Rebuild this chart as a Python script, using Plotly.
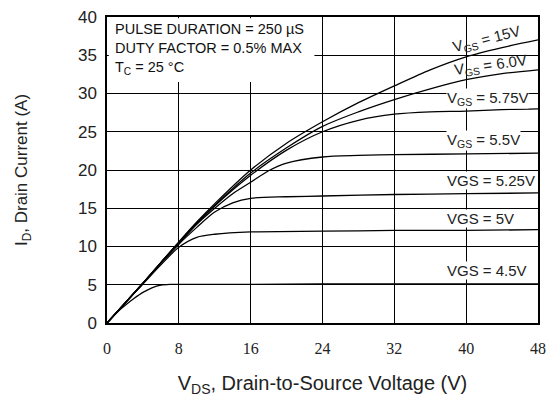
import plotly.graph_objects as go

# V_DS sample points (V) for each curve and drain current (A)
x_15 = [0, 2, 4, 6, 8, 10, 12, 16, 20, 24, 28, 32, 36, 40, 44, 48]
y_15 = [0, 2.6, 5.2, 7.9, 10.6, 13.2, 15.6, 20.0, 23.5, 26.3, 28.8, 31.0, 33.1, 34.8, 36.0, 37.0]

x_60 = [0, 2, 4, 6, 8, 10, 12, 16, 20, 24, 28, 32, 36, 40, 44, 48]
y_60 = [0, 2.6, 5.2, 7.9, 10.5, 13.1, 15.4, 19.6, 22.9, 25.7, 27.6, 29.2, 30.6, 31.8, 32.6, 33.1]

x_575 = [0, 2, 4, 6, 8, 10, 12, 16, 20, 24, 28, 32, 36, 40, 44, 48]
y_575 = [0, 2.6, 5.2, 7.9, 10.5, 13.0, 15.3, 19.3, 22.6, 25.0, 26.5, 27.3, 27.6, 27.7, 27.9, 28.0]

x_55 = [0, 2, 4, 6, 8, 10, 12, 14, 16, 18, 20, 24, 28, 32, 40, 48]
y_55 = [0, 2.6, 5.2, 7.9, 10.4, 12.9, 15.0, 16.9, 18.4, 19.9, 20.9, 21.7, 21.9, 22.0, 22.1, 22.2]

x_525 = [0, 2, 4, 6, 8, 10, 12, 14, 16, 20, 24, 32, 40, 48]
y_525 = [0, 2.6, 5.2, 7.8, 10.3, 12.5, 14.5, 15.7, 16.3, 16.5, 16.6, 16.8, 16.9, 17.0]

x_50 = [0, 2, 4, 6, 8, 10, 12, 16, 24, 32, 40, 48]
y_50 = [0, 2.6, 5.1, 7.6, 9.9, 11.2, 11.6, 11.9, 12.0, 12.1, 12.1, 12.2]

x_45 = [0, 1.4, 2, 3, 4, 5, 6, 7, 8, 16, 24, 32, 40, 48]
y_45 = [0, 1.7, 2.3, 3.2, 4.0, 4.6, 4.95, 5.05, 5.05, 5.05, 5.1, 5.1, 5.1, 5.1]

curves = [
    (x_15, y_15), (x_60, y_60), (x_575, y_575), (x_55, y_55),
    (x_525, y_525), (x_50, y_50), (x_45, y_45),
]

# curve labels
label_text = ["V<sub>GS</sub> = 15V", "V<sub>GS</sub> = 6.0V", "V<sub>GS</sub> = 5.75V",
              "V<sub>GS</sub> = 5.5V", "VGS = 5.25V", "VGS = 5V", "VGS = 4.5V"]
label_x = [42.3, 42.7, 37.7, 37.7, 37.7, 37.7, 37.7]
label_y = [37.1, 33.7, 29.3, 23.9, 18.6, 13.7, 6.8]
label_angle = [-14, -8, 0, 0, 0, 0, 0]

x_ticks = [0, 8, 16, 24, 32, 40, 48]
y_ticks = [0, 5, 10, 15, 20, 25, 30, 35, 40]

fig = go.Figure()
for xs, ys in curves:
    fig.add_trace(go.Scatter(
        x=xs, y=ys, mode="lines",
        line=dict(color="black", width=1.3, shape="spline", smoothing=0.8),
        showlegend=False, hoverinfo="skip"))

# white box behind the test-condition text (hides gridlines)
fig.add_shape(type="rect", xref="x", yref="y", x0=0.2, x1=23.1, y0=31.5, y1=39.85,
              fillcolor="white", line=dict(width=0), layer="above")

fig.add_annotation(
    x=0.016, y=0.99, xref="paper", yref="paper", xanchor="left", yanchor="top",
    text="PULSE DURATION = 250 µS<br>DUTY FACTOR = 0.5% MAX<br>T<sub>C</sub> = 25 °C",
    showarrow=False, align="left", borderpad=0,
    font=dict(family="Liberation Sans, Arial", size=14.5, color="#111"))

for t, lx, ly, ang in zip(label_text, label_x, label_y, label_angle):
    fig.add_annotation(
        x=lx, y=ly, xref="x", yref="y", text=t, showarrow=False,
        textangle=ang, borderpad=0,
        xanchor="center" if ang != 0 else "left",
        bgcolor="white" if ang == 0 else "rgba(0,0,0,0)",
        font=dict(family="Liberation Sans, Arial", size=15, color="#222"))

fig.update_layout(
    width=553, height=401,
    margin=dict(l=107, r=7, t=17, b=78),
    paper_bgcolor="white", plot_bgcolor="white",
    font=dict(family="Liberation Sans, Arial", color="#222"),
)
fig.update_xaxes(
    range=[0, 48], tickvals=x_ticks, ticktext=[str(v) for v in x_ticks],
    showgrid=True, gridcolor="black", gridwidth=1,
    showline=True, linecolor="black", linewidth=1.5, mirror=True,
    ticks="", ticklabelstandoff=10, zeroline=False,
    tickfont=dict(family="Liberation Serif, Times New Roman", size=16, color="#222"),
    title=dict(text="V<sub>DS</sub>, Drain-to-Source Voltage (V)",
               font=dict(family="Liberation Sans, Arial", size=20, color="#222"),
               standoff=20),
)
fig.update_yaxes(
    range=[0, 40], tickvals=y_ticks,
    showgrid=True, gridcolor="black", gridwidth=1,
    showline=True, linecolor="black", linewidth=1.5, mirror=True,
    ticks="", ticklabelstandoff=5, zeroline=False,
    tickfont=dict(family="Liberation Sans, Arial", size=17, color="#222"),
    title=dict(text="I<sub>D</sub>, Drain Current (A)",
               font=dict(family="Liberation Sans, Arial", size=17, color="#222"),
               standoff=46),
)

fig.write_html("out.html", config={"displayModeBar": False},
               post_script="document.body.style.margin='0px';")
